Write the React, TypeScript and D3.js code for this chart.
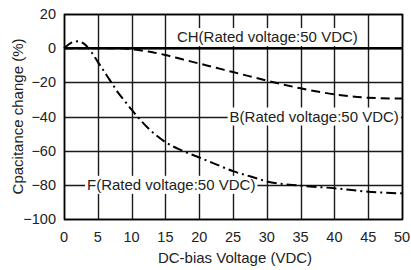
import React from "react";
import * as d3 from "d3";

const voltages = [0, 1, 2, 3, 4, 5, 6, 7, 8, 9, 10, 12.5, 15, 17.5, 20, 22.5, 25, 27.5, 30, 35, 40, 45, 50];
const chValues = [0, 0, 0, 0, 0, 0, 0, 0, 0, 0, 0, 0, 0, 0, 0, 0, 0, 0, 0, 0, 0, 0, 0];
const bValues = [0, 0, 0, 0, 0, 0, 0, 0, 0, -0.2, -0.6, -2, -4, -6.5, -9, -11.5, -14, -16.5, -19, -23.5, -27, -29, -29.5];
const fValues = [0, 3, 4, 2.5, -2, -8, -14, -20, -26, -31, -36, -47, -55, -60, -64, -68, -72, -75, -78, -80.5, -82, -84, -85];

const xTicks = [0, 5, 10, 15, 20, 25, 30, 35, 40, 45, 50];
const yTicks = [20, 0, -20, -40, -60, -80, -100];

const seriesLabels = ["CH(Rated voltage:50 VDC)", "B(Rated voltage:50 VDC)", "F(Rated voltage:50 VDC)"];
const labelAnchors = [[16.7, 6.5], [24.5, -40], [3.4, -80]];

const width = 411;
const height = 270;
const margin = { top: 14, right: 9, bottom: 51, left: 64 };
const font = "'Liberation Sans', Arial, sans-serif";
const ink = "#222";

const x = d3.scaleLinear().domain([0, 50]).range([margin.left, width - margin.right]);
const y = d3.scaleLinear().domain([-100, 20]).range([height - margin.bottom, margin.top]);
const rx = (v: number) => Math.round(x(v));
const ry = (v: number) => Math.round(y(v));

const measure = (s: string, size: number) => {
  const ctx = document.createElement("canvas").getContext("2d");
  if (!ctx) return s.length * size * 0.5;
  ctx.font = `${size}px ${font}`;
  return ctx.measureText(s).width;
};

const line = d3.line<number>()
  .x((_, i) => x(voltages[i]))
  .y(d => y(d))
  .curve(d3.curveMonotoneX);

const App = () => {
  return (
    <svg
      width={width}
      height={height}
      style={{ position: "absolute", left: 0, top: 0, background: "#fff" }}
      fontFamily={font}
    >
      <g stroke="#1a1a1a" strokeWidth={1.4} fill="none">
        {xTicks.map(d => (
          <path key={"gx" + d} d={`M${rx(d) + 0.5},${ry(20)}V${ry(-100)}`} />
        ))}
        {yTicks.map(d => (
          <path key={"gy" + d} d={`M${rx(0)},${ry(d) + 0.5}H${rx(50)}`} />
        ))}
      </g>

      {seriesLabels.map((s, i) => {
        const w = measure(s, 15);
        const lx = x(labelAnchors[i][0]);
        const ly = y(labelAnchors[i][1]);
        return (
          <g key={s}>
            <rect x={lx - 2} y={ly - 9} width={w + 4} height={18} fill="#fff" />
            <text x={lx} y={ly} dy="0.35em" fontSize={15} fill={ink}>{s}</text>
          </g>
        );
      })}

      <rect
        x={rx(0) + 0.5} y={ry(20) + 0.5} width={rx(50) - rx(0)} height={ry(-100) - ry(20)}
        fill="none" stroke="#000" strokeWidth={1.6}
      />

      <path d={line(bValues) || ""} fill="none" stroke="#000" strokeWidth={2} strokeDasharray="9,5" />
      <path d={line(fValues) || ""} fill="none" stroke="#000" strokeWidth={2} strokeDasharray="10,4,2,4" />
      <path d={line(chValues) || ""} fill="none" stroke="#000" strokeWidth={2.5} />

      {xTicks.map(d => (
        <text key={"tx" + d} x={x(d)} y={y(-100) + 18} dy="0.35em" textAnchor="middle" fontSize={14.5} fill={ink}>
          {d}
        </text>
      ))}
      {yTicks.map(d => (
        <text key={"ty" + d} x={x(0) - 8} y={y(d)} dy="0.35em" textAnchor="end" fontSize={14.5} fill={ink}>
          {d < 0 ? "\u2212" + Math.abs(d) : String(d)}
        </text>
      ))}

      <text x={(x(0) + x(50)) / 2 + 2} y={258} dy="0.35em" textAnchor="middle" fontSize={15} fill={ink}>
        DC-bias Voltage (VDC)
      </text>
      <text
        transform={`translate(18,${(y(20) + y(-100)) / 2}) rotate(-90)`}
        dy="0.35em" textAnchor="middle" fontSize={15} fill={ink}
      >
        Cpacitance change (%)
      </text>
    </svg>
  );
};

export default App;
